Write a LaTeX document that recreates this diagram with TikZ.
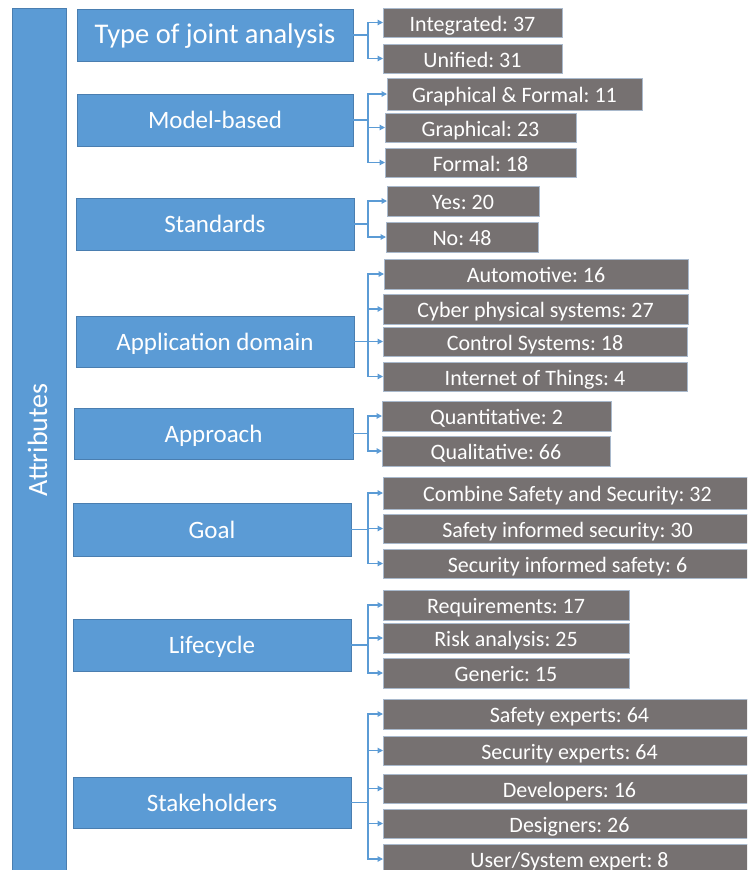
\documentclass[tikz,border=0pt]{standalone}
\usepackage{fontspec}
\setmainfont{Carlito}
\usetikzlibrary{arrows.meta}
\definecolor{bluefill}{HTML}{5B9BD5}
\definecolor{blueline}{HTML}{4A7EB0}
\definecolor{grayfill}{HTML}{767171}
\definecolor{grayline}{HTML}{A9B9CC}
\definecolor{connc}{HTML}{5B9BD5}
\tikzset{
  catbox/.style={fill=bluefill, draw=blueline, line width=0.8pt, text=white, inner sep=0pt, outer sep=0pt, text height=17pt, text depth=0pt, font=\fontsize{25}{27}\selectfont\frenchspacing},
  valbox/.style={fill=grayfill, draw=grayline, line width=0.8pt, text=white, inner sep=0pt, outer sep=0pt, text height=17pt, text depth=0pt, font=\fontsize{22}{24}\selectfont\frenchspacing},
  conn/.style={draw=connc, line width=1.2pt, -{Triangle[length=5.5pt,width=5.5pt]}}
}
\newcommand\mkbox[7]{\node[#1, minimum width={(#5-#3)*1pt}, minimum height={(#6-#4)*1pt}, anchor=north west] (#2) at (#3,#4) {#7};}
\newcommand\links[2]{\foreach \c in {#2} {\draw[conn] (#1.east) -- (#1.east -| vx) |- (\c.west);}}
\begin{document}
\frenchspacing
\begin{tikzpicture}[x=1pt,y=-1pt]
\useasboundingbox (0,0) rectangle (747,870);
\clip (0,0) rectangle (747,870);
\fill[white] (0,0) rectangle (747,870);
\coordinate (vx) at (368,0);
% Attributes bar
\node[catbox, rotate=90, minimum width=864pt, minimum height=54pt, text height=16pt, font=\fontsize{28}{30}\selectfont] (attr) at (39,440) {Attributes};
% category boxes
\mkbox{catbox}{type}{77}{9}{353}{61}{\fontsize{28.5}{30}\selectfont Type of joint analysis}
\mkbox{catbox}{model}{77}{94}{353}{146}{Model-based}
\mkbox{catbox}{stand}{76}{198}{354}{250}{Standards}
\mkbox{catbox}{appd}{76}{316}{354}{367}{Application domain}
\mkbox{catbox}{appr}{74}{408}{353}{459}{Approach}
\mkbox{catbox}{goal}{73}{503}{351}{556}{Goal}
\mkbox{catbox}{life}{73}{619}{351}{671}{Lifecycle}
\mkbox{catbox}{stake}{73}{777}{351}{828}{Stakeholders}
% value boxes
\mkbox{valbox}{int}{383}{8}{562}{37}{Integrated: 37}
\mkbox{valbox}{uni}{383}{44}{562}{73}{Unified: 31}
\mkbox{valbox}{gf}{387}{78}{642}{110}{Graphical \& Formal: 11}
\mkbox{valbox}{gr}{385}{113}{576}{142}{Graphical: 23}
\mkbox{valbox}{fo}{385}{148}{576}{177}{Formal: 18}
\mkbox{valbox}{yes}{387}{186}{539}{216}{Yes: 20}
\mkbox{valbox}{no}{386}{222}{538}{252}{No: 48}
\mkbox{valbox}{auto}{384}{259}{688}{289}{Automotive: 16}
\mkbox{valbox}{cps}{383}{294}{688}{324}{Cyber physical systems: 27}
\mkbox{valbox}{ctrl}{383}{327}{687}{356}{Control Systems: 18}
\mkbox{valbox}{iot}{383}{362}{687}{391}{Internet of Things: 4}
\mkbox{valbox}{quan}{382}{401}{611}{431}{Quantitative: 2}
\mkbox{valbox}{qual}{382}{436}{610}{466}{Qualitative: 66}
\mkbox{valbox}{comb}{383}{477}{752}{509}{Combine Safety and Security: 32}
\mkbox{valbox}{sis}{383}{514}{752}{543}{Safety informed security: 30}
\mkbox{valbox}{sif}{383}{549}{752}{578}{Security informed safety: 6}
\mkbox{valbox}{req}{383}{590}{629}{620}{Requirements: 17}
\mkbox{valbox}{risk}{383}{623}{629}{653}{Risk analysis: 25}
\mkbox{valbox}{gen}{383}{658}{629}{688}{Generic: 15}
\mkbox{valbox}{se}{383}{699}{756}{729}{Safety experts: 64}
\mkbox{valbox}{sec}{383}{736}{756}{765}{Security experts: 64}
\mkbox{valbox}{dev}{383}{774}{756}{803}{Developers: 16}
\mkbox{valbox}{des}{383}{809}{756}{838}{Designers: 26}
\mkbox{valbox}{user}{383}{844}{756}{874}{User/System expert: 8}
% connectors
\links{type}{int,uni}
\links{model}{gf,gr,fo}
\links{stand}{yes,no}
\links{appd}{auto,cps,ctrl,iot}
\links{appr}{quan,qual}
\links{goal}{comb,sis,sif}
\links{life}{req,risk,gen}
\links{stake}{se,sec,dev,des,user}
\end{tikzpicture}
\end{document}
